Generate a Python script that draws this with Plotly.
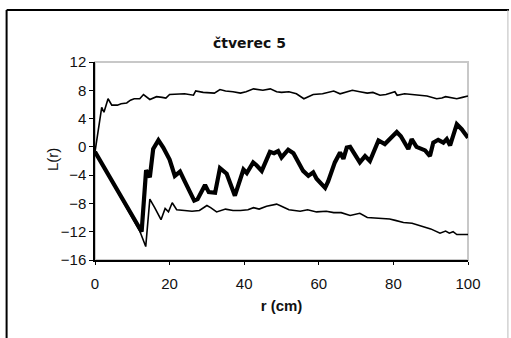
import plotly.graph_objects as go

# Upper envelope
r_upper = [0, 1.0, 1.8, 2.4, 3.5, 4.5, 6, 7, 8.5, 9.5, 10.5, 12, 13, 14.7, 16.5, 18, 19, 20, 22, 24,
           26.4, 27, 29, 32, 33.5, 35, 37, 39, 40.5, 42.5, 45, 47, 48.7, 50, 52, 54, 56, 57, 58.5, 61,
           64, 65.7, 67, 69, 71, 73, 74.5, 76.4, 78, 80.4, 81, 83, 85, 87, 89, 91.6, 93, 94, 95.5, 97,
           98.5, 100]
L_upper = [-0.7, 2.5, 5.6, 4.9, 6.8, 5.9, 5.9, 6.1, 6.2, 6.6, 6.8, 6.8, 7.4, 6.7, 7.1, 7.0, 6.9, 7.4, 7.4, 7.5,
           7.3, 7.9, 7.7, 7.6, 8.1, 7.9, 7.8, 7.6, 7.8, 8.2, 8.0, 8.2, 7.8, 7.7, 7.8, 7.5, 6.8, 7.0, 7.4, 7.5,
           7.9, 7.5, 7.7, 8.0, 7.8, 7.6, 7.7, 7.3, 7.4, 7.8, 7.3, 7.5, 7.4, 7.3, 7.2, 6.8, 6.9, 7.1, 6.9, 6.8,
           7.0, 7.2]

# Lower envelope
r_lower = [0, 12, 13.6, 14.7, 16, 17.7, 18.8, 19.7, 20.7, 21.9, 24, 26, 28, 30, 31, 32.6, 35, 37, 39, 41,
           42.5, 44, 46, 48.7, 50, 52, 55, 57, 59.4, 62, 64, 66, 68.4, 71, 73, 76.4, 79, 80.5, 82.7, 85,
           87, 88.5, 90, 92.5, 94, 95, 96, 97, 98.5, 100]
L_lower = [-0.7, -11.9, -14.1, -7.4, -8.6, -10.3, -8.7, -9.2, -7.9, -8.9, -9.0, -9.1, -9.0, -8.3, -8.6, -9.2, -8.8, -9.0, -9.0, -8.9,
           -8.6, -8.8, -8.4, -8.1, -8.4, -8.9, -9.1, -8.9, -9.2, -9.1, -9.3, -9.3, -9.7, -9.4, -10.0, -10.1, -10.2, -10.4, -10.7, -10.8,
           -11.1, -11.3, -11.6, -12.2, -11.9, -12.2, -12.0, -12.4, -12.4, -12.4]

# Observed L(r)
r_obs = [0, 2, 4, 6, 8, 10, 12, 12.5, 13.7, 14.7, 15.6, 17, 18.3, 20, 21.4, 22.8, 24, 25.5, 26.6, 27.5,
         29.5, 30.5, 32.2, 33.5, 35.3, 37.5, 39.8, 40.7, 42.4, 43.3, 44.7, 46.9, 48, 49.1, 50, 51.8, 53.2, 55.8, 57.2, 58.5,
         59.4, 61.7, 62.5, 64.3, 65.7, 66.6, 67.5, 68.4, 71, 72.4, 73.7, 76, 77.7, 80.9, 82, 84, 84.9, 86.2, 87.1, 88.5,
         89.8, 90.7, 92, 93.4, 94.3, 95.2, 97, 98.3, 100]
L_obs = [-0.7, -2.5, -4.3, -6.2, -8.0, -9.8, -11.6, -12.0, -3.3, -4.3, -0.3, 0.95, -0.1, -1.8, -4.1, -3.5, -4.8, -6.4, -7.6, -7.4,
         -5.4, -6.4, -6.5, -3.0, -3.8, -6.9, -3.2, -3.7, -2.2, -2.6, -3.4, -0.7, -0.9, -0.6, -1.5, -0.4, -0.9, -3.4, -4.1, -3.6,
         -4.5, -5.8, -4.9, -2.2, -0.8, -1.7, -0.1, 0.0, -2.2, -1.3, -2.0, 0.9, 0.4, 2.1, 1.5, -0.3, 1.1, 0.0, -0.2, -0.5,
         -1.3, 0.6, 1.0, 0.6, 1.1, 0.2, 3.2, 2.5, 1.3]

x_ticks = [0, 20, 40, 60, 80, 100]
y_ticks = [-16, -12, -8, -4, 0, 4, 8, 12]

fig = go.Figure()
fig.add_trace(go.Scatter(x=r_upper, y=L_upper, mode="lines", line=dict(color="black", width=1.6), showlegend=False))
fig.add_trace(go.Scatter(x=r_lower, y=L_lower, mode="lines", line=dict(color="black", width=1.6), showlegend=False))
fig.add_trace(go.Scatter(x=r_obs, y=L_obs, mode="lines", line=dict(color="black", width=4.2), showlegend=False))

font = "Liberation Sans, Arial, sans-serif"
fig.update_layout(
    width=511, height=338,
    margin=dict(l=95, r=43, t=62, b=78),
    paper_bgcolor="white", plot_bgcolor="white",
    font=dict(family=font, size=15, color="#111111"),
    xaxis=dict(range=[0, 100], tickvals=x_ticks, showgrid=False, zeroline=False,
               showline=True, linecolor="black", linewidth=1.5,
               ticks="outside", ticklen=3, tickcolor="black", ticklabelstandoff=6,
               title=dict(text="<b>r (cm)</b>", font=dict(size=15), standoff=10)),
    yaxis=dict(range=[-16, 12], tickvals=y_ticks, showgrid=False, zeroline=False,
               showline=True, linecolor="black", linewidth=1.5,
               ticks="outside", ticklen=4, tickcolor="black"),
    shapes=[
        dict(type="rect", xref="paper", yref="paper", x0=0, x1=1, y0=0, y1=1,
             line=dict(color="#c8c8c8", width=2), layer="below"),
        dict(type="line", xref="paper", yref="paper", x0=-0.237, x1=1.11, y0=1.263, y1=1.263,
             line=dict(color="black", width=2)),
        dict(type="line", xref="paper", yref="paper", x0=-0.237, x1=-0.237, y0=1.263, y1=-0.42,
             line=dict(color="black", width=2)),
        dict(type="line", xref="paper", yref="paper", x0=1.107, x1=1.107, y0=1.263, y1=-0.42,
             line=dict(color="#bbbbbb", width=1)),
    ],
    annotations=[
        dict(text="<b>čtverec 5</b>", xref="paper", yref="paper", x=(249 - 95) / 373, y=(260 - 43) / 198,
             showarrow=False, xanchor="center", yanchor="middle",
             font=dict(family="DejaVu Sans, sans-serif", size=14, color="#111111")),
        dict(text="L(r)", xref="paper", yref="paper", x=(52 - 95) / 373, y=(260 - 160) / 198,
             showarrow=False, xanchor="center", yanchor="middle", textangle=-90,
             font=dict(size=15, color="#111111")),
    ],
)

fig.write_html("out.html")
